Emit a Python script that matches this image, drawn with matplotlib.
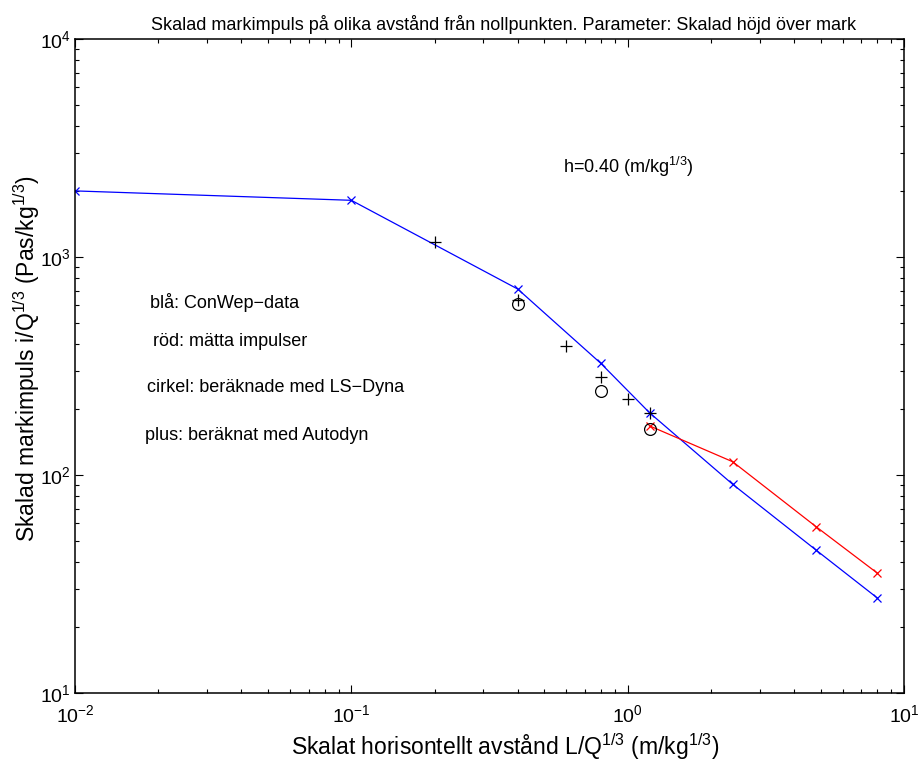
import matplotlib
matplotlib.use("Agg")
import matplotlib.pyplot as plt
from matplotlib.ticker import LogLocator

plt.rcParams["font.family"] = ["Liberation Sans", "DejaVu Sans"]
plt.rcParams["mathtext.fontset"] = "custom"
plt.rcParams["mathtext.rm"] = "Liberation Sans"
plt.rcParams["mathtext.it"] = "Liberation Sans:italic"
plt.rcParams["mathtext.bf"] = "Liberation Sans:bold"

# ConWep reference curve (blue)
conwep_x = [0.01, 0.1, 0.4, 0.8, 1.2, 2.4, 4.8, 8.0]
conwep_y = [2010, 1820, 713, 325, 193, 90.6, 45.3, 27.3]

# Measured impulses (red)
measured_x = [1.2, 2.4, 4.8, 8.0]
measured_y = [168, 115, 58, 35.5]

# LS-Dyna results (circles)
lsdyna_x = [0.4, 0.8, 1.2]
lsdyna_y = [607, 244, 162]

# Autodyn results (plus)
autodyn_x = [0.2, 0.4, 0.6, 0.8, 1.0, 1.2]
autodyn_y = [1175, 635, 391, 282, 222, 192]

fig = plt.figure(figsize=(9.18, 7.60), dpi=100)
# axes box in pixels: left 75, right 904, top 39, bottom 693
ax = fig.add_axes([75 / 918, 1 - 693 / 760, 829 / 918, 654 / 760])

ax.plot(conwep_x, conwep_y, color="#0000ff", lw=0.9, marker="x", ms=6, mew=0.9)
ax.plot(measured_x, measured_y, color="#ff0000", lw=0.9, marker="x", ms=6, mew=0.9)
ax.plot(lsdyna_x, lsdyna_y, ls="none", marker="o", ms=8.5, mfc="none", mec="black", mew=0.9)
ax.plot(autodyn_x, autodyn_y, ls="none", marker="+", ms=8, mec="black", mew=0.9)

ax.set_xscale("log")
ax.set_yscale("log")
ax.set_xlim(1e-2, 1e1)
ax.set_ylim(1e1, 1e4)
ax.xaxis.set_major_locator(LogLocator(base=10, numticks=10))
ax.yaxis.set_major_locator(LogLocator(base=10, numticks=10))
ax.xaxis.set_minor_locator(LogLocator(base=10, subs=range(2, 10), numticks=20))
ax.yaxis.set_minor_locator(LogLocator(base=10, subs=range(2, 10), numticks=20))

ax.tick_params(which="both", direction="in", top=True, right=True, labelsize=14, color="black")
ax.tick_params(which="major", length=6, width=0.8)
ax.tick_params(which="minor", length=3, width=0.8)
ax.tick_params(axis="x", which="major", pad=8)
ax.tick_params(axis="y", which="major", pad=3)
for s in ax.spines.values():
    s.set_linewidth(1.1)


def to_axes(px, py):
    return (px - 75) / 829, (693 - py) / 654


ax.set_title("Skalad markimpuls på olika avstånd från nollpunkten. Parameter: Skalad höjd över mark",
             fontsize=13, pad=6.5, x=to_axes(504, 0)[0])
ax.set_xlabel(r"Skalat horisontellt avstånd L/Q$^{1/3}$ (m/kg$^{1/3}$)", fontsize=16.5)
ax.xaxis.set_label_coords(to_axes(505, 0)[0], to_axes(0, 731)[1])
ax.set_ylabel(r"Skalad markimpuls i/Q$^{1/3}$ (Pas/kg$^{1/3}$)", fontsize=16.5)
ax.yaxis.set_label_coords(to_axes(42, 0)[0], to_axes(0, 358)[1])

ax.text(*to_axes(563, 167), r"h=0.40 (m/kg$^{1/3}$)",
        transform=ax.transAxes, fontsize=13, va="center", ha="left")
notes = [
    (150, 302, "blå: ConWep−data"),
    (153, 342, "röd: mätta impulser"),
    (147, 388, "cirkel: beräknade med LS−Dyna"),
    (145, 436, "plus: beräknat med Autodyn"),
]
for px, py, txt in notes:
    ax.text(*to_axes(px, py), txt, transform=ax.transAxes,
            fontsize=13, va="center", ha="left")

fig.savefig("out.png", dpi=100)
